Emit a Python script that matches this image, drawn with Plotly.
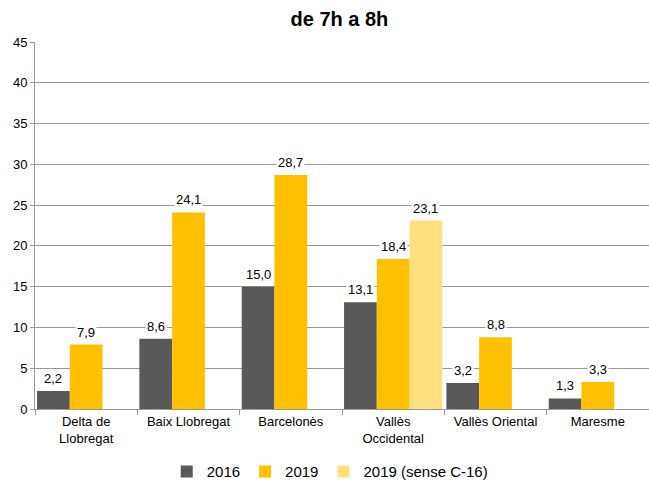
import plotly.graph_objects as go

categories = ["Delta de<br>Llobregat", "Baix Llobregat", "Barcelonès",
              "Vallès<br>Occidental", "Vallès Oriental", "Maresme"]
v2016 = [2.2, 8.6, 15.0, 13.1, 3.2, 1.3]
v2019 = [7.9, 24.1, 28.7, 18.4, 8.8, 3.3]
v2019_sense = [None, None, None, 23.1, None, None]
y_ticks = [0, 5, 10, 15, 20, 25, 30, 35, 40, 45]

series = [
    ("2016", v2016, "#595959"),
    ("2019", v2019, "#FFC000"),
    ("2019 (sense C-16)", v2019_sense, "#FFDF80"),
]

fig = go.Figure()
for name, vals, col in series:
    fig.add_trace(go.Bar(x=categories, y=vals, name=name, marker_color=col,
                         marker_line_width=0))

W, L, R = 649, 35, 0
slot = (W - L - R) / len(categories) * (1 - 0.04) / 3
for i, (name, vals, col) in enumerate(series):
    for c, v in zip(categories, vals):
        if v is None:
            continue
        fig.add_annotation(x=c, y=v, text=f"{v:.1f}".replace(".", ","),
                           showarrow=False, yanchor="bottom", xanchor="center",
                           xshift=(i - 1) * slot, yshift=3,
                           bgcolor="white", borderpad=1,
                           font=dict(family="Liberation Sans, Arial", size=13, color="#000"))

fig.update_layout(
    width=649, height=481,
    margin=dict(l=35, r=0, t=42, b=72, autoexpand=False),
    paper_bgcolor="white", plot_bgcolor="white",
    barmode="group", bargap=0.04, bargroupgap=0,
    title=dict(text="<b>de 7h a 8h</b>", x=0.523, xanchor="center", y=0.96, yanchor="middle",
               font=dict(family="Liberation Sans, Arial", size=20, color="#000")),
    font=dict(family="Liberation Sans, Arial", size=13, color="#000"),
    legend=dict(orientation="h", x=0.48, xanchor="center", yref="container", y=0.019,
                yanchor="middle", font=dict(size=15), itemwidth=30, traceorder="normal",
                tracegroupgap=0),
    showlegend=True,
)
fig.update_yaxes(range=[0, 45], tickvals=y_ticks, showgrid=True, gridcolor="#999",
                 gridwidth=1, showline=True, linecolor="#999", ticks="outside",
                 ticklen=4, tickcolor="#999", zeroline=False, automargin=False,
                 tickfont=dict(size=13))
fig.update_xaxes(showline=True, linecolor="#999", ticks="outside", tickson="boundaries",
                 ticklen=5, tickcolor="#999", tickfont=dict(size=13), automargin=False)

fig.write_html("out.html", config={"displayModeBar": False},
               post_script="document.body.style.margin='0';")
